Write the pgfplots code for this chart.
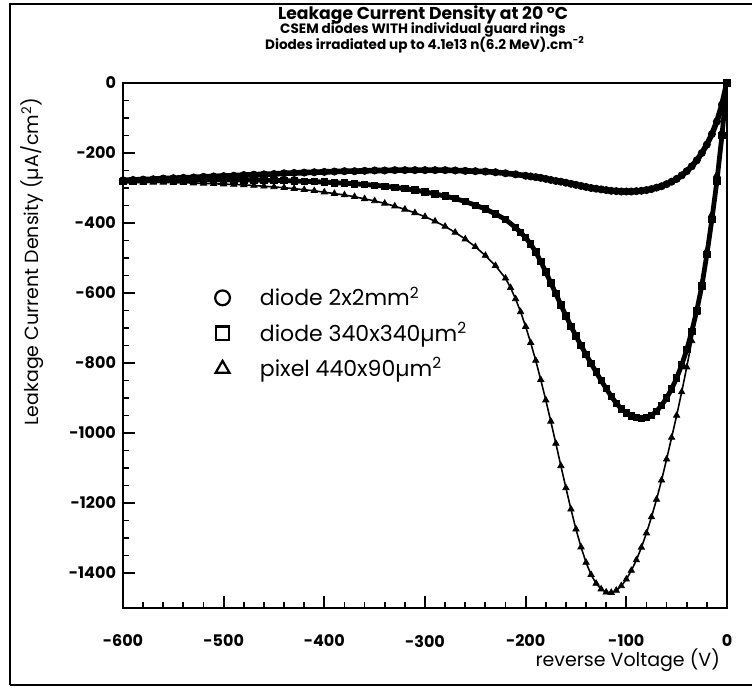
\documentclass[border=0pt]{standalone}
\usepackage{fontspec}
\setmainfont{Poppins}
\usepackage{pgfplots}
\pgfplotsset{compat=1.18}

% Leakage current density vs. reverse bias, three device geometries
\pgfplotstableread{
V J
-600 -278
-590 -277
-580 -276
-570 -275
-560 -273
-550 -272
-540 -271
-530 -270
-520 -268
-510 -267
-500 -266
-490 -265
-480 -263
-470 -262
-460 -261
-450 -260
-440 -258
-430 -257
-420 -256
-410 -255
-400 -254
-390 -253
-380 -252
-370 -252
-360 -251
-350 -250
-340 -250
-330 -249
-320 -249
-310 -249
-300 -249
-290 -249
-280 -249
-270 -250
-260 -251
-250 -252
-240 -253
-230 -255
-220 -258
-210 -261
-200 -265
-195 -267
-190 -269
-185 -271
-180 -274
-175 -277
-170 -280
-165 -282
-160 -285
-155 -288
-150 -291
-145 -294
-140 -297
-135 -300
-130 -302
-125 -304
-120 -306
-115 -308
-110 -309
-105 -310
-100 -310
-95 -310
-90 -309
-85 -308
-80 -306
-75 -303
-70 -299
-65 -295
-60 -289
-55 -282
-50 -274
-45 -264
-40 -252
-35 -238
-30 -221
-25 -200
-20 -176
-15 -146
-10 -110
-5 -62
0 0
}\diodeA

\pgfplotstableread{
V J
-600 -281
-590 -280
-580 -280
-570 -279
-560 -279
-550 -278
-540 -278
-530 -277
-520 -277
-510 -277
-500 -277
-490 -277
-480 -277
-470 -277
-460 -278
-450 -278
-440 -279
-430 -280
-420 -281
-410 -282
-400 -283
-390 -285
-380 -286
-370 -288
-360 -290
-350 -292
-340 -295
-330 -298
-320 -302
-310 -306
-300 -311
-290 -317
-280 -323
-270 -330
-260 -339
-250 -349
-240 -360
-230 -374
-220 -390
-210 -413
-205 -427
-200 -442
-195 -460
-190 -483
-185 -510
-180 -540
-175 -571
-170 -602
-165 -634
-160 -665
-155 -695
-150 -723
-145 -750
-140 -776
-135 -801
-130 -826
-125 -850
-120 -873
-115 -895
-110 -915
-105 -931
-100 -943
-95 -951
-90 -956
-85 -958
-80 -956
-75 -950
-70 -938
-65 -921
-60 -900
-55 -874
-50 -843
-45 -806
-40 -762
-35 -710
-30 -650
-25 -580
-20 -490
-15 -390
-10 -280
-5 -150
0 0
}\diodeB

\pgfplotstableread{
V J
-600 -284
-590 -284
-580 -284
-570 -284
-560 -284
-550 -285
-540 -285
-530 -286
-520 -287
-510 -288
-500 -289
-490 -290
-480 -291
-470 -293
-460 -295
-450 -297
-440 -299
-430 -302
-420 -305
-410 -308
-400 -312
-390 -316
-380 -320
-370 -325
-360 -331
-350 -337
-340 -344
-330 -352
-320 -361
-310 -371
-300 -382
-290 -395
-280 -410
-270 -427
-260 -446
-250 -468
-240 -493
-230 -522
-220 -558
-215 -585
-210 -617
-205 -654
-200 -696
-195 -742
-190 -793
-185 -848
-180 -906
-175 -967
-170 -1030
-165 -1094
-160 -1157
-155 -1218
-150 -1275
-145 -1326
-140 -1370
-135 -1405
-130 -1430
-125 -1446
-120 -1455
-115 -1456
-110 -1450
-105 -1437
-100 -1418
-95 -1393
-90 -1363
-85 -1327
-80 -1286
-75 -1240
-70 -1190
-65 -1135
-60 -1075
-55 -1013
-50 -950
-45 -883
-40 -812
-35 -737
-30 -656
-25 -570
-20 -478
-15 -375
-10 -262
-5 -138
0 0
}\pixel

\begin{document}
\begin{tikzpicture}
\useasboundingbox (0,0) rectangle (376pt,345.5pt);
% page frame
\draw[line width=1pt] (5pt,3pt) -- (5pt,343.5pt) -- (376pt,343.5pt);
\draw[line width=1pt] (5pt,3pt) -- (376pt,3pt);

% titles
\node[inner sep=0pt, font=\bfseries\fontsize{8.6}{9}\selectfont] at (211.5pt,338pt)
  {Leakage Current Density at 20 °C};
\node[inner sep=0pt, font=\bfseries\fontsize{6.8}{7}\selectfont] at (211.5pt,330.5pt)
  {CSEM diodes WITH individual guard rings};
\node[inner sep=0pt, font=\bfseries\fontsize{6.8}{7}\selectfont] at (212.5pt,323pt)
  {Diodes irradiated up to 4.1e13 n(6.2 MeV).cm\textsuperscript{-2}};

\begin{axis}[
  at={(61.5pt,41.5pt)}, anchor=south west,
  scale only axis, width=302pt, height=262.5pt,
  xmin=-600, xmax=0, ymin=-1500, ymax=0,
  xtick={-600,-500,...,0}, ytick={-1400,-1200,...,0},
  minor x tick num=4, minor y tick num=3,
  xtick pos=lower, ytick pos=left, tick align=inside,
  major tick length=6pt, minor tick length=3.2pt,
  every tick/.style={black, line width=0.9pt},
  axis line style={line width=1.1pt},
  /pgf/number format/assume math mode=true,
  /pgf/number format/set thousands separator={},
  ticklabel style={font=\bfseries\fontsize{8}{9}\selectfont},
  xticklabel style={yshift=-10pt},
  xlabel={reverse Voltage (V)},
  ylabel={Leakage Current Density (\textmu A/cm\textsuperscript{2})},
  label style={font=\fontsize{9.5}{11}\selectfont},
  xlabel style={at={(axis description cs:1,-0.1)}, anchor=east},
  ylabel style={at={(axis description cs:-0.15,0.66)}, anchor=center},
  legend style={draw=none, fill=none, at={(axis description cs:0.142,0.628)},
    anchor=north west, font=\fontsize{11}{12}\selectfont,
    row sep=2.6pt, cells={anchor=west},
    /tikz/every odd column/.append style={column sep=13pt}},
  legend cell align=left,
]
\addplot[black, line width=2.8pt, mark=*, mark size=1.8pt,
  mark options={line width=0.4pt}, forget plot] table[x=V,y=J] {\diodeA};
\addplot[black, line width=2.4pt, mark=square*, mark size=1.6pt,
  mark options={line width=0.4pt}, forget plot] table[x=V,y=J] {\diodeB};
\addplot[black, line width=0.8pt, mark=triangle*, mark size=1.8pt,
  mark options={line width=0.4pt}, forget plot] table[x=V,y=J] {\pixel};

\addlegendimage{only marks, black, mark=o, mark size=3.7pt, line width=1.1pt}
\addlegendentry{diode 2x2mm\textsuperscript{2}}
\addlegendimage{only marks, black, mark=square, mark size=3.4pt, line width=1.1pt}
\addlegendentry{diode 340x340\textmu m\textsuperscript{2}}
\addlegendimage{only marks, black, mark=triangle, mark size=4pt, line width=1.1pt}
\addlegendentry{pixel 440x90\textmu m\textsuperscript{2}}
\end{axis}
\end{tikzpicture}
\end{document}
